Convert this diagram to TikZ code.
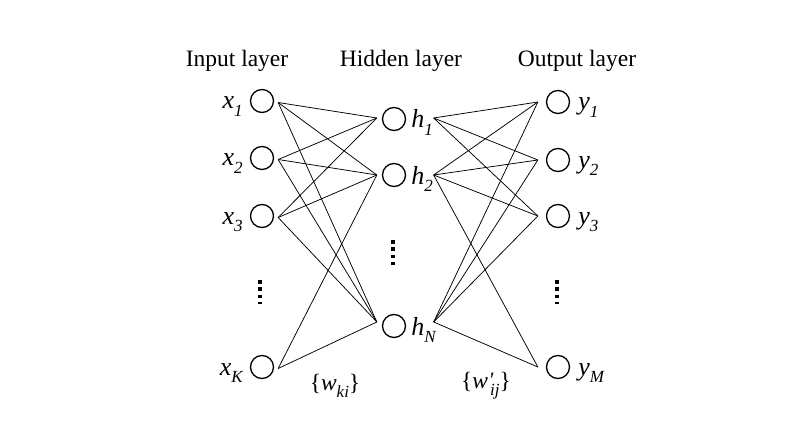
\documentclass[tikz,border=0pt]{standalone}
\usepackage{fontspec}
\setmainfont{Liberation Serif}
\newcommand{\lsub}[1]{\raisebox{-0.3em}{\fontsize{17}{19}\selectfont #1}}

\begin{document}
\begin{tikzpicture}[x=1pt,y=-1pt,line cap=butt,line join=miter,font=\fontsize{23.5}{28}\selectfont]
	\tikzset{neuron/.style={circle,draw,line width=1.3pt,minimum size=23pt,inner sep=0pt},
		wire/.style={line width=0.75pt},
		vdots/.style={line width=4.2pt,dash pattern=on 3.5pt off 3.8pt},
		lbl/.style={inner sep=0pt,font=\fontsize{26}{30}\selectfont\itshape}}
	\useasboundingbox (0,0) rectangle (790,433);
	% layer titles
	\node[anchor=base] (tin) at (237,67) {Input layer};
	\node[anchor=base] (thid) at (401,67) {Hidden layer};
	\node[anchor=base] (tout) at (577,67) {Output layer};
	% units
	\foreach \n/\y in {1/101,2/158,3/216,K/367}{
		\node[neuron] (x\n) at (262,\y) {};
		\node[lbl,anchor=base east] (lx\n) at ([shift={(-7pt,-8pt)}]x\n.west) {x\lsub{\n}};
		\coordinate (x\n-out) at ([shift={(4pt,-1.5pt)}]x\n.east);}
	\foreach \n/\y/\d in {1/119/1,2/175/0,N/326/4}{
		\node[neuron] (h\n) at (394,\y) {};
		\node[lbl,anchor=base west] (lh\n) at ([shift={(5pt,-9pt)}]h\n.east) {h\lsub{\n}};
		\coordinate (h\n-in) at ([shift={(-5pt,\d pt)}]h\n.west);
		\coordinate (h\n-out) at ([shift={(27.5pt,\d pt)}]h\n.east);}
	\foreach \n/\y in {1/102,2/160,3/216,M/367}{
		\node[neuron] (y\n) at (558,\y) {};
		\node[lbl,anchor=base west] (ly\n) at ([shift={(8pt,-8pt)}]y\n.east) {y\lsub{\n}};
		\coordinate (y\n-in) at ([xshift=-8pt]y\n.west);}
	% dots
	\draw[vdots] (260,280)--(260,304);
	\draw[vdots] (393,240)--(393,265);
	\draw[vdots] (557,280)--(557,304);
	% weights
	\foreach \i in {1,2,3}{
		\foreach \j in {1,2,N}{
			\draw[wire] (x\i-out)--(h\j-in);}}
	\foreach \j in {2,N}{
		\draw[wire] (xK-out)--(h\j-in);}
	\foreach \j in {1,2,3}{
		\draw[wire] (h1-out)--(y\j-in);}
	\foreach \i in {2,N}{
		\foreach \j in {1,2,3,M}{
			\draw[wire] (h\i-out)--(y\j-in);}}
	\node (wki) at (335,386) {\{\textit{w}\lsub{\textit{ki}}\}};
	\node (wij) at (486,386) {\{\textit{w}\rlap{\kern0.5pt\raisebox{0.05em}{\fontsize{22}{22}\selectfont\textit{\textquotesingle}}}\lsub{\kern2pt\textit{ij}}\}};
\end{tikzpicture}
\end{document}
